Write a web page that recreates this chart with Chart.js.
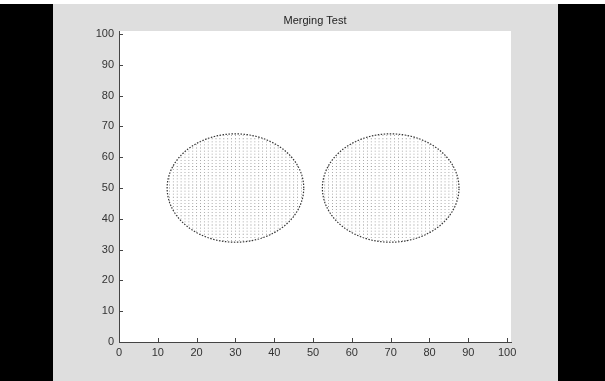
<!DOCTYPE html>
<html>
<head>
<meta charset="utf-8">
<script src="https://cdn.jsdelivr.net/npm/chart.js@4/dist/chart.umd.min.js"></script>
<style>
  html, body { margin: 0; padding: 0; background: #fff; }
  canvas { display: block; }
</style>
</head>
<body>
<canvas id="chart" width="605" height="381"></canvas>
<script>
// chart data
const titleText = 'Merging Test';
const circleCenterX = [30, 70];
const circleCenterY = [50, 50];
const circleRadius = [17.6, 17.6];
const gridStep = 1;            // spacing of the filled dots, in data units
const xTicks = [0, 10, 20, 30, 40, 50, 60, 70, 80, 90, 100];
const yTicks = [0, 10, 20, 30, 40, 50, 60, 70, 80, 90, 100];
const axisMax = 101;

// dots on the lattice inside each circle, and the circle outlines
function insidePoints(cx, cy, r) {
  const pts = [];
  for (let x = Math.ceil(cx - r); x <= cx + r; x += gridStep) {
    for (let y = Math.ceil(cy - r); y <= cy + r; y += gridStep) {
      if ((x - cx) * (x - cx) + (y - cy) * (y - cy) <= r * r) pts.push({x, y});
    }
  }
  return pts;
}

function outline(cx, cy, r) {
  const pts = [];
  for (let i = 0; i <= 360; i += 2) {
    const a = i * Math.PI / 180;
    pts.push({x: cx + r * Math.cos(a), y: cy + r * Math.sin(a)});
  }
  return pts;
}

const datasets = [];
circleCenterX.forEach((cx, i) => {
  datasets.push({
    data: insidePoints(cx, circleCenterY[i], circleRadius[i]),
    pointStyle: 'rect',
    pointRadius: 0.6,
    pointBackgroundColor: '#808080',
    pointBorderWidth: 0,
    showLine: false
  });
  datasets.push({
    data: outline(cx, circleCenterY[i], circleRadius[i]),
    showLine: true,
    borderColor: '#333',
    borderWidth: 1.2,
    borderDash: [1.5, 1.5],
    pointRadius: 0,
    tension: 0
  });
});

const frame = {
  id: 'frame',
  beforeDraw(chart) {
    const {ctx, chartArea} = chart;
    ctx.save();
    ctx.fillStyle = '#ffffff';
    ctx.fillRect(0, 0, 605, 381);
    ctx.fillStyle = '#dedede';
    ctx.fillRect(53, 4, 505, 377);
    ctx.fillStyle = '#000000';
    ctx.fillRect(0, 4, 53, 377);
    ctx.fillRect(558, 4, 47, 377);
    ctx.fillStyle = '#ffffff';
    ctx.fillRect(chartArea.left, chartArea.top, chartArea.right - chartArea.left, chartArea.bottom - chartArea.top);
    ctx.restore();
  },
  afterDraw(chart) {
    const {ctx, chartArea, scales} = chart;
    ctx.save();
    ctx.strokeStyle = '#444';
    ctx.lineWidth = 1;
    ctx.beginPath();
    xTicks.forEach(v => {
      const x = Math.round(scales.x.getPixelForValue(v)) + 0.5;
      ctx.moveTo(x, chartArea.bottom);
      ctx.lineTo(x, chartArea.bottom - 4);
    });
    yTicks.forEach(v => {
      const y = Math.round(scales.y.getPixelForValue(v)) + 0.5;
      ctx.moveTo(chartArea.left, y);
      ctx.lineTo(chartArea.left + 4, y);
    });
    ctx.stroke();
    ctx.fillStyle = '#222';
    ctx.font = '11px "Liberation Sans", Arial, sans-serif';
    ctx.textAlign = 'center';
    ctx.textBaseline = 'alphabetic';
    ctx.fillText(titleText, (chartArea.left + chartArea.right) / 2, 24);
    ctx.restore();
  }
};

new Chart(document.getElementById('chart'), {
  type: 'scatter',
  data: {datasets},
  plugins: [frame],
  options: {
    responsive: false,
    animation: false,
    devicePixelRatio: 1,
    layout: {padding: {left: 0, top: 31, right: 94, bottom: 0}},
    plugins: {legend: {display: false}, tooltip: {enabled: false}, title: {display: false}},
    scales: {
      x: {
        type: 'linear',
        min: 0,
        max: axisMax,
        afterBuildTicks: scale => { scale.ticks = xTicks.map(v => ({value: v})); },
        afterFit: scale => { scale.height = 39; },
        grid: {display: false, drawTicks: false},
        border: {display: true, color: '#444', width: 1},
        ticks: {color: '#333', padding: 4, font: {size: 11, family: '"Liberation Sans", Arial, sans-serif'}, maxRotation: 0, autoSkip: false}
      },
      y: {
        type: 'linear',
        min: 0,
        max: axisMax,
        afterBuildTicks: scale => { scale.ticks = yTicks.map(v => ({value: v})); },
        afterFit: scale => { scale.width = 119; },
        grid: {display: false, drawTicks: false},
        border: {display: true, color: '#444', width: 1},
        ticks: {color: '#333', padding: 5, font: {size: 11, family: '"Liberation Sans", Arial, sans-serif'}, autoSkip: false}
      }
    }
  }
});
</script>
</body>
</html>
